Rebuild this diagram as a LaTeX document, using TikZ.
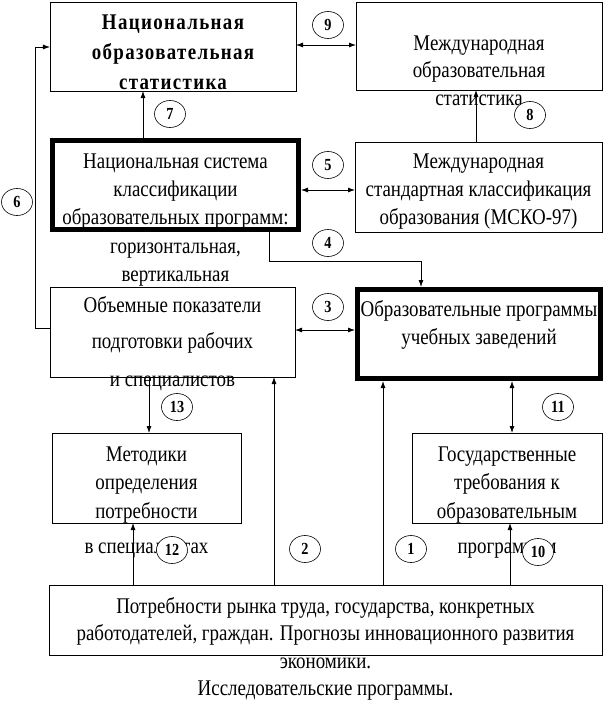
\documentclass[tikz,border=0pt]{standalone}
\usepackage{fontspec}
\setmainfont{Liberation Serif}[FakeStretch=0.845]
\usetikzlibrary{arrows.meta,shapes.geometric}

\tikzset{
  box/.style={draw, line width=0.8bp, inner sep=0pt, outer sep=0pt},
  thickbox/.style={draw, line width=5bp, inner sep=0pt, outer sep=2.5bp},
  txt/.style={align=center, inner sep=0pt, font=\fontsize{22.5}{28.5}\selectfont},
  num/.style={draw, ellipse, fill=white, line width=0.6bp, minimum width=31bp,
    minimum height=27bp, inner sep=0pt, font=\fontsize{17}{17}\selectfont\bfseries},
  wire/.style={line width=0.8bp},
  arr/.style={wire, -{Latex[length=7bp,width=5bp]}},
  dblarr/.style={wire, {Latex[length=7bp,width=5bp]}-{Latex[length=7bp,width=5bp]}}
}

\begin{document}
\begin{tikzpicture}[x=1bp,y=-1bp]
        \useasboundingbox (0,0) rectangle (605,702);
        % the boxes
        \node[box, minimum width=246bp, minimum height=89bp] (natstat) at (173,46.5) {};
        \node[box, minimum width=246bp, minimum height=88bp] (intstat) at (479,46) {};
        \node[thickbox, minimum width=246bp, minimum height=89bp] (natcls) at (175.5,185) {};
        \node[box, minimum width=247bp, minimum height=90bp] (isced) at (478.5,187) {};
        \node[box, minimum width=245bp, minimum height=90bp] (volume) at (172.5,332) {};
        \node[thickbox, minimum width=243bp, minimum height=89bp] (progs) at (479,334) {};
        \node[box, minimum width=189bp, minimum height=90bp] (method) at (146.5,478) {};
        \node[box, minimum width=190bp, minimum height=90bp] (gosreq) at (507,478) {};
        \node[box, minimum width=553bp, minimum height=70bp] (needs) at (325.5,620) {};
        % the texts of the boxes
        \node[txt, font=\fontsize{22.5}{30}\selectfont\bfseries\addfontfeature{LetterSpace=6}]
          (natstat-t) at (173,52) {Национальная\\образовательная\\статистика};
        \node[txt, font=\fontsize{22.5}{27.5}\selectfont]
          (intstat-t) at (479,70.5) {Международная\\образовательная\\статистика};
        \node[txt] (natcls-t) at (175.5,220)
          {Национальная система\\классификации\\образовательных программ:\\горизонтальная,\\вертикальная};
        \node[txt] (isced-t) at (478.5,191.5)
          {Международная\\стандартная классификация\\образования (МСКО-97)};
        \node[txt] (volume-t) at (172.5,344)
          {Объемные показатели\\[7bp]подготовки рабочих\\[10bp]и специалистов};
        \node[txt] (progs-t) at (479,325) {Образовательные программы\\учебных заведений};
        \node[txt] (method-t) at (146.5,502.5)
          {Методики\\определения\\потребности\\[7bp]в специалистах};
        \node[txt] (gosreq-t) at (507,502.5)
          {Государственные\\требования к\\образовательным\\[7bp]программам};
        \node[txt, font=\fontsize{22.5}{27.5}\selectfont] (needs-t) at (325.5,649)
          {Потребности рынка труда, государства, конкретных\\работодателей, граждан. Прогнозы инновационного развития\\экономики.\\Исследовательские программы.};
        % bends of the connectors
        \coordinate (bend6) at (35,47);
        \coordinate (bend4) at (421,261);
        % the connectors
        \draw[dblarr] (natstat.east |- 0,45) -- (intstat.west |- 0,45);
        \draw[arr] (natcls.north -| 143,0) -- (natstat.south -| 143,0);
        \draw[arr] (isced.north -| 476,0) -- (intstat.south -| 476,0);
        \draw[arr] (volume.west |- 0,328) -| (bend6) -- (natstat.west |- bend6);
        \draw[dblarr] (natcls.east |- 0,190) -- (isced.west |- 0,190);
        \draw[arr] (natcls.south -| 269,0) |- (bend4) -- (progs.north -| bend4);
        \draw[dblarr] (volume.east |- 0,330) -- (progs.west |- 0,330);
        \draw[arr] (volume.south -| 149,0) -- (method.north -| 149,0);
        \draw[dblarr] (progs.south -| 512,0) -- (gosreq.north -| 512,0);
        \draw[arr] (needs.north -| 133,0) -- (method.south -| 133,0);
        \draw[arr] (needs.north -| 274,0) -- (volume.south -| 274,0);
        \draw[arr] (needs.north -| 383,0) -- (progs.south -| 383,0);
        \draw[arr] (needs.north -| 510,0) -- (gosreq.south -| 510,0);
        % the numbers of the connectors
        \node[num] (n1)  at (411,549) {1};
        \node[num] (n2)  at (305,549) {2};
        \node[num] (n3)  at (328,307) {3};
        \node[num] (n4)  at (328,243) {4};
        \node[num] (n5)  at (328,165) {5};
        \node[num] (n6)  at (17,202)  {6};
        \node[num] (n7)  at (170,114) {7};
        \node[num] (n8)  at (530,115) {8};
        \node[num] (n9)  at (328,25)  {9};
        \node[num] (n10) at (538,552) {10};
        \node[num] (n11) at (558,407) {11};
        \node[num] (n12) at (172,550) {12};
        \node[num] (n13) at (177,407) {13};
\end{tikzpicture}
\end{document}
